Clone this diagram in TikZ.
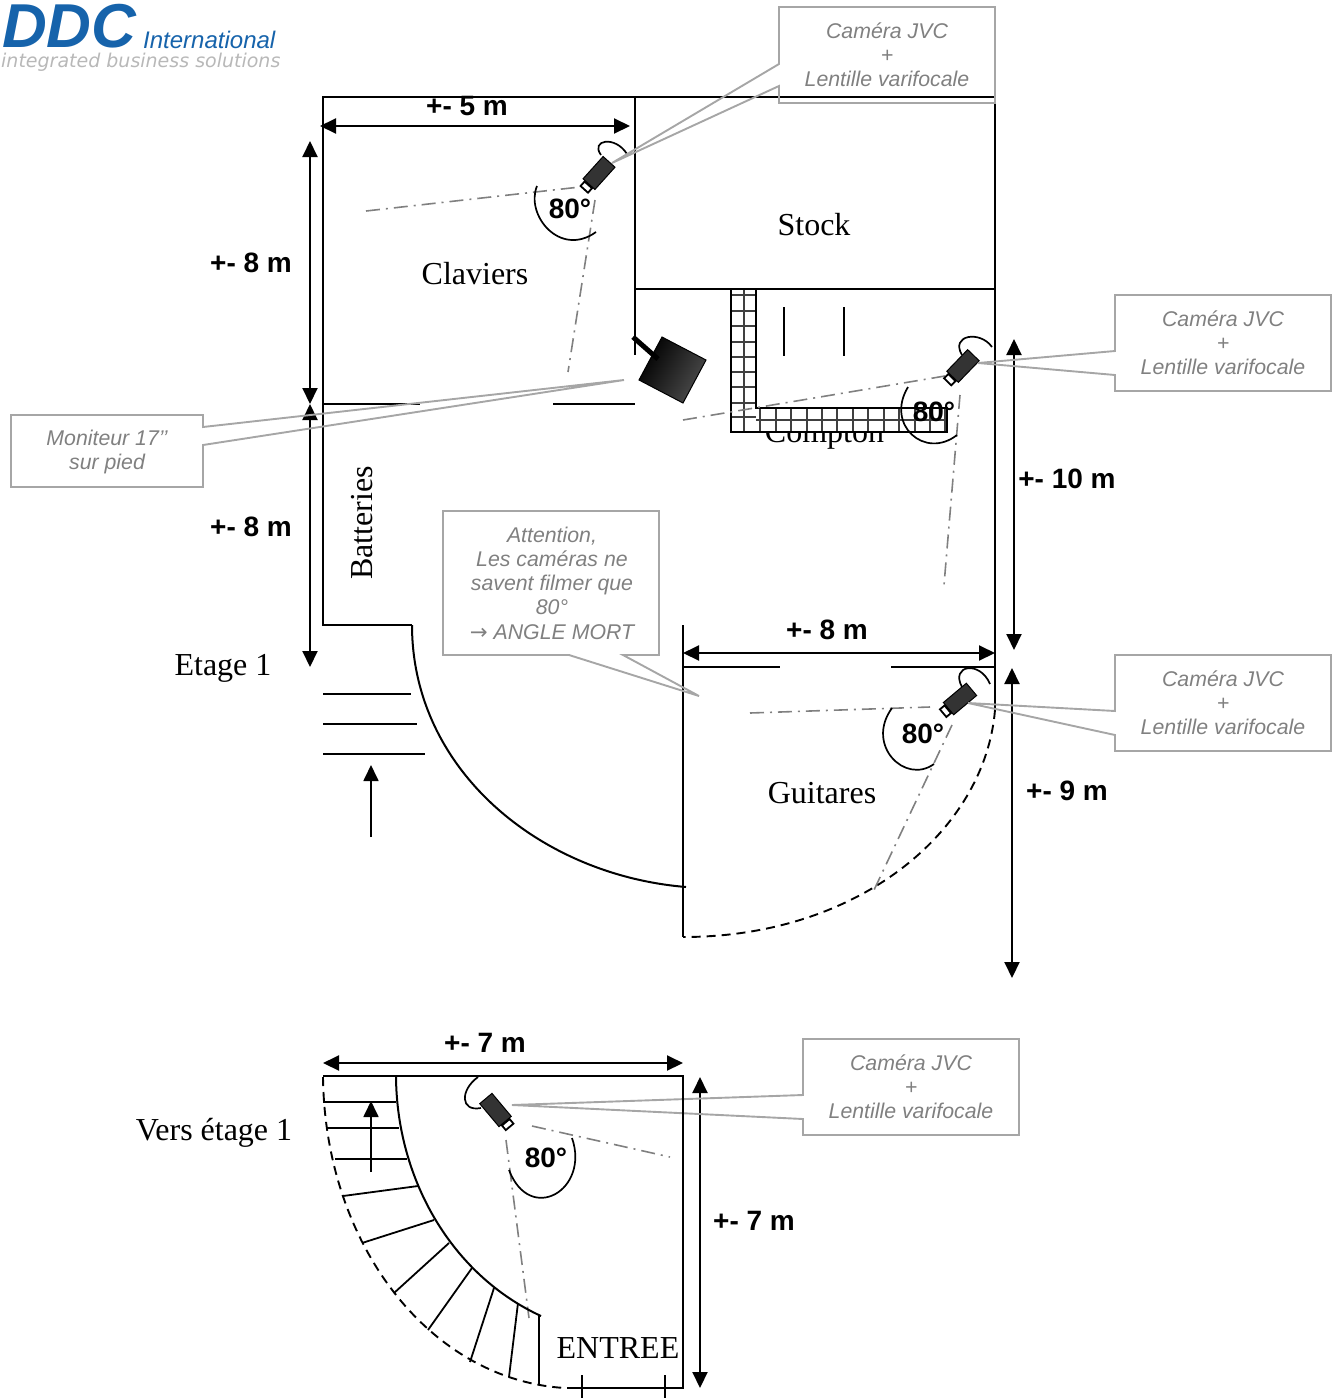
\documentclass[tikz,border=0pt]{standalone}
\usepackage{fontspec}
\setmainfont{Liberation Serif}
\setsansfont{Liberation Sans}
\newfontfamily\arrowfont{DejaVu Sans}
\newfontfamily\logofont{DejaVu Sans}
\usetikzlibrary{arrows.meta}
\definecolor{notegray}{HTML}{808080}
\definecolor{noteline}{HTML}{A6A6A6}
\definecolor{viewgray}{HTML}{808080}
\definecolor{logoblue}{HTML}{1663AB}
\tikzset{
  wall/.style={line width=2pt,black},
  thin wall/.style={line width=1.8pt,black},
  dashwall/.style={line width=1.9pt,black,dash pattern=on 9pt off 6pt},
  dim/.style={line width=2pt,black,{Triangle[length=16pt,width=15pt]}-{Triangle[length=16pt,width=15pt]}},
  uparrow/.style={line width=1.8pt,black,-{Triangle[length=16pt,width=15pt]}},
  view/.style={line width=1.6pt,viewgray,dash pattern=on 14pt off 6pt on 2pt off 6pt},
  fov/.style={line width=1.7pt,black},
  gridline/.style={line width=1.6pt,black!75},
  room/.style={font=\fontsize{32}{36}\selectfont,anchor=base,inner sep=0pt},
  measure/.style={font=\sffamily\bfseries\fontsize{28}{30}\selectfont,anchor=base,inner sep=0pt},
  callout/.style={line width=1.9pt,noteline},
  note/.style={font=\sffamily\itshape\fontsize{21.3}{24.2}\selectfont,text=notegray,align=center,inner sep=0pt},
  cam/.pic={
    \draw[line width=1pt,black,fill=black!80] (-15,-8) rectangle (15,8);
    \draw[line width=1.8pt,black,fill=white] (-22,-5) rectangle (-16,5);
  }
}
\begin{document}
\begin{tikzpicture}[x=1pt,y=-1pt]
\useasboundingbox (0,0) rectangle (1339,1398);
% logo
\node[font=\sffamily\bfseries\itshape\fontsize{62}{62}\selectfont,text=logoblue,anchor=base west,inner sep=0pt] (logoa) at (2,47) {DDC};
\node[font=\sffamily\itshape\fontsize{24}{24}\selectfont,text=logoblue,anchor=base west,inner sep=0pt] (logob) at (143,48) {International};
\node[font=\logofont\itshape\fontsize{19}{20}\selectfont,text=black!28,anchor=base west,inner sep=0pt] (logoc) at (1,67) {integrated business solutions};
% compton text, partly hidden by the counter
\node[room] (compton) at (824.5,442) {Compton};
% counter grid
\fill[white] (731,289) rectangle (756,432) (756,408) rectangle (947,432);
\foreach \yy in {295,311,326,342,357,372,387,403,417}
  \draw[gridline] (731,\yy) -- (756,\yy);
\draw[gridline] (744,289) -- (744,432);
\draw[gridline] (756,420) -- (947,420);
\foreach \xx in {760,776,791,807,822,837,853,868,884,899,915,930,945}
  \draw[gridline] (\xx,408) -- (\xx,432);
\draw[thin wall] (731,289) -- (731,432) -- (947,432) -- (947,408) -- (756,408) -- (756,289);
% walls
\draw[wall] (635,97) -- (323,97) -- (323,625) -- (412,625);
\draw[wall] (635,97) -- (995,97) -- (995,710);
\draw[wall] (635,97) -- (635,355);
\draw[wall] (635,289) -- (995,289);
\draw[wall] (323,404) -- (420,404);
\draw[wall] (553,404) -- (635,404);
\draw[wall] (683,625) -- (683,937);
\draw[wall] (683,667) -- (780,667);
\draw[wall] (891,667) -- (995,667);
\draw[wall] (784,307) -- (784,356);
\draw[wall] (844,307) -- (844,356);
\draw[wall] (412,625) .. controls (412,770) and (540,875) .. (686,887);
\draw[dashwall] (995,710) .. controls (985,830) and (860,937) .. (683,937);
% stairs to floor 1
\draw[wall] (323,694) -- (411,694);
\draw[wall] (323,724) -- (417,724);
\draw[wall] (323,754) -- (425,754);
\draw[uparrow] (371,837) -- (371,765);
% monitor
\shade[left color=black,right color=black!70,draw=black,line width=1pt,shading angle=60]
  (662,337) -- (706,360) -- (683,403) -- (639,380) -- cycle;
\draw[line width=5pt,black] (633,337) -- (658,359);
% view lines
\draw[view] (366,211) -- (580,187);
\draw[view] (595,200) -- (568,372);
\draw[view] (683,420) -- (945,376);
\draw[view] (960,395) -- (944,585);
\draw[view] (750,713) -- (930,707);
\draw[view] (952,725) -- (874,890);
\draw[view] (532,1126) -- (670,1157);
\draw[view] (506,1140) -- (529,1318);
% fields of view
\draw[fov] (537,186) .. controls (525,215) and (560,258) .. (596,232);
\draw[fov] (908,387) .. controls (885,425) and (925,460) .. (957,435);
\draw[fov] (892,708) .. controls (865,745) and (905,785) .. (934,764);
\draw[fov] (572,1138) .. controls (590,1190) and (530,1225) .. (509,1170);
% cables
\draw[fov] (601,155) .. controls (590,140) and (615,135) .. (627,154);
\draw[fov] (962,355) .. controls (950,335) and (980,330) .. (992,347);
\draw[fov] (962,687) .. controls (950,665) and (980,660) .. (990,684);
\draw[fov] (478,1077) .. controls (460,1090) and (460,1112) .. (481,1108);
% cameras
\pic[rotate=48] (cama) at (599,173) {cam};
\pic[rotate=46] (camb) at (963,366) {cam};
\pic[rotate=40] (camc) at (960,699) {cam};
\pic[rotate=130] (camd) at (495.5,1110) {cam};
% angle labels
\node[measure] (anga) at (570,218) {80°};
\node[measure] (angb) at (934,421) {80°};
\node[measure] (angc) at (923,743) {80°};
\node[measure] (angd) at (546,1167) {80°};
% measures
\draw[dim] (320,126) -- (630,126);
\node[measure] (ma) at (467,115) {+- 5 m};
\draw[dim] (310,141) -- (310,404);
\node[measure] (mb) at (251,272) {+- 8 m};
\draw[dim] (310,404) -- (310,667);
\node[measure] (mc) at (251,536) {+- 8 m};
\draw[dim] (1014,339) -- (1014,650);
\node[measure] (md) at (1067,488) {+- 10 m};
\draw[dim] (683,653) -- (995,653);
\node[measure] (me) at (827,639) {+- 8 m};
\draw[dim] (1012,668) -- (1012,978);
\node[measure] (mf) at (1067,800) {+- 9 m};
\draw[dim] (323,1063) -- (683,1063);
\node[measure] (mg) at (485,1052) {+- 7 m};
\draw[dim] (700,1077) -- (700,1388);
\node[measure] (mh) at (754,1230) {+- 7 m};
% room names
\node[room] (stock) at (814,235) {Stock};
\node[room] (claviers) at (475,284) {Claviers};
\node[room,rotate=90] (batteries) at (372,523) {Batteries};
\node[room] (guitares) at (822,803) {Guitares};
\node[room] (etage) at (223,675) {Etage 1};
\node[room] (versetage) at (214,1140) {Vers étage 1};
% callouts
\draw[callout] (779,7) -- (995,7) -- (995,103) -- (779,103) -- (779,86) -- (612,163) -- (779,64) -- cycle;
\node[note] (na) at (887,55) {Caméra JVC\\+\\Lentille varifocale};
\draw[callout] (1115,295) -- (1331,295) -- (1331,391) -- (1115,391) -- (1115,375) -- (978,363) -- (1115,351) -- cycle;
\node[note] (nb) at (1223,343) {Caméra JVC\\+\\Lentille varifocale};
\draw[callout] (1115,655) -- (1331,655) -- (1331,751) -- (1115,751) -- (1115,735) -- (968,703) -- (1115,711) -- cycle;
\node[note] (nc) at (1223,703) {Caméra JVC\\+\\Lentille varifocale};
\draw[callout] (803,1039) -- (1019,1039) -- (1019,1135) -- (803,1135) -- (803,1119) -- (512,1105) -- (803,1095) -- cycle;
\node[note] (nd) at (911,1087) {Caméra JVC\\+\\Lentille varifocale};
\draw[callout] (11,415) -- (203,415) -- (203,427) -- (624,380) -- (203,445) -- (203,487) -- (11,487) -- cycle;
\node[note] (ne) at (107,452) {Moniteur 17’’\\sur pied};
\draw[callout] (443,511) -- (659,511) -- (659,655) -- (623,655) -- (699,696) -- (569,655) -- (443,655) -- cycle;
\node[note] (nf) at (552,583) {Attention,\\Les caméras ne\\savent filmer que\\80°\\{\arrowfont\itshape →} ANGLE MORT};
% ground floor
\draw[wall] (323,1076) -- (683,1076) -- (683,1388) -- (567,1388);
\draw[dashwall] (323,1077) .. controls (325,1245) and (430,1380) .. (565,1388);
\draw[wall] (396,1077) .. controls (397,1180) and (452,1275) .. (541,1316);
\draw[thin wall] (323,1102) -- (396,1102);
\draw[thin wall] (327,1128) -- (399,1128);
\draw[thin wall] (335,1159) -- (407,1159);
\draw[thin wall] (343,1196) -- (418,1186);
\draw[thin wall] (362,1243) -- (434,1220);
\draw[thin wall] (394,1293) -- (449,1243);
\draw[thin wall] (428,1330) -- (472,1268);
\draw[thin wall] (470,1362) -- (494,1288);
\draw[thin wall] (509,1377) -- (518,1303);
\draw[thin wall] (539,1385) -- (539,1316);
\draw[uparrow] (371,1172) -- (371,1101);
\draw[thin wall] (582,1375) -- (582,1398);
\draw[thin wall] (665,1375) -- (665,1398);
\node[room] (entree) at (618,1358) {ENTREE};
\end{tikzpicture}
\end{document}
